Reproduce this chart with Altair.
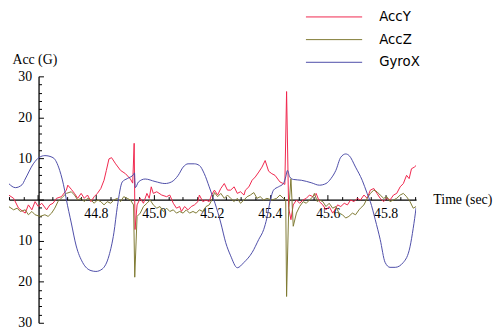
import altair as alt
import pandas as pd

series_names = ["AccY", "AccZ", "GyroX"]
series_colors = ["#f0264c", "#7f7a33", "#4c4ca8"]

accy_time = [44.499, 44.516, 44.533, 44.556, 44.567, 44.579, 44.590, 44.601, 44.613, 44.630,
             44.641, 44.652, 44.664, 44.681, 44.698, 44.703, 44.715, 44.726, 44.737, 44.749,
             44.760, 44.771, 44.783, 44.794, 44.805, 44.817, 44.828, 44.836, 44.845, 44.854,
             44.868, 44.885, 44.902, 44.919, 44.927, 44.932, 44.935, 44.942, 44.953, 44.964,
             44.976, 44.984, 44.991, 44.998, 45.010, 45.027, 45.044, 45.055, 45.067, 45.078,
             45.089, 45.095, 45.106, 45.118, 45.129, 45.140, 45.152, 45.157, 45.169, 45.180,
             45.191, 45.199, 45.209, 45.220, 45.231, 45.243, 45.254, 45.265, 45.277, 45.288,
             45.299, 45.311, 45.316, 45.328, 45.339, 45.350, 45.362, 45.373, 45.384, 45.396,
             45.407, 45.418, 45.435, 45.452, 45.458, 45.465, 45.473, 45.481, 45.492, 45.503,
             45.515, 45.526, 45.537, 45.549, 45.560, 45.571, 45.583, 45.594, 45.605, 45.617,
             45.625, 45.634, 45.645, 45.657, 45.668, 45.679, 45.691, 45.702, 45.713, 45.725,
             45.736, 45.747, 45.759, 45.770, 45.781, 45.793, 45.804, 45.815, 45.827, 45.838,
             45.850, 45.861, 45.872, 45.881, 45.889, 45.899, 45.905]
accy_value = [1.1, 0.3, -2.1, -3.3, -1.3, -2.5, -0.5, -1.7, -0.9, -2.5,
              -1.3, -0.9, 0.3, 0.7, 2.3, 3.5, 2.5, 1.5, 0.3, 1.5,
              0.3, 1.1, -0.5, 0.7, 1.5, 2.7, 4.7, 7.1, 9.9, 10.2,
              8.7, 7.1, 6.3, 5.0, 4.0, 13.7, -7.3, -1.3, 0.3, -0.9,
              1.5, 0.3, 3.1, 1.5, 1.9, 1.1, 0.7, 1.1, -0.9, -2.1,
              -1.7, -2.9, -1.7, -2.5, -1.7, -1.3, -0.5, 1.1, -0.5, -0.1,
              -0.5, 1.1, 2.3, 1.1, 2.7, 3.9, 2.3, 2.3, 3.1, 1.5,
              1.9, 1.1, 2.3, 3.1, 4.7, 5.5, 6.7, 7.9, 9.5, 6.9,
              6.3, 5.9, 4.3, 3.7, 26.3, -2.0, -4.9, -1.3, -0.1, -0.9,
              -0.1, 0.3, 1.1, 0.7, 1.5, -0.5, -1.3, -2.5, -1.7, -3.3,
              -2.5, -1.3, -1.7, -0.9, -1.3, -0.1, -0.5, 0.3, -0.1, 1.1,
              0.3, 2.3, 2.7, 1.5, 0.3, -0.5, 0.3, -0.1, 1.1, 1.5,
              3.1, 3.9, 5.9, 5.1, 7.5, 7.9, 8.3]

accz_time = [44.499, 44.516, 44.528, 44.539, 44.556, 44.567, 44.579, 44.590, 44.607, 44.624,
             44.635, 44.647, 44.658, 44.669, 44.686, 44.698, 44.715, 44.726, 44.737, 44.749,
             44.760, 44.771, 44.783, 44.794, 44.805, 44.817, 44.828, 44.839, 44.851, 44.862,
             44.874, 44.885, 44.896, 44.908, 44.919, 44.930, 44.934, 44.942, 44.953, 44.964,
             44.976, 44.987, 44.998, 45.010, 45.021, 45.033, 45.044, 45.055, 45.067, 45.078,
             45.089, 45.101, 45.112, 45.123, 45.135, 45.146, 45.157, 45.169, 45.180, 45.191,
             45.203, 45.209, 45.220, 45.231, 45.243, 45.254, 45.265, 45.277, 45.288, 45.299,
             45.311, 45.322, 45.333, 45.345, 45.356, 45.367, 45.379, 45.390, 45.407, 45.424,
             45.435, 45.447, 45.455, 45.458, 45.465, 45.473, 45.481, 45.492, 45.503, 45.515,
             45.526, 45.537, 45.549, 45.554, 45.564, 45.571, 45.583, 45.594, 45.605, 45.617,
             45.628, 45.639, 45.651, 45.662, 45.673, 45.685, 45.696, 45.708, 45.713, 45.725,
             45.736, 45.747, 45.759, 45.770, 45.781, 45.793, 45.804, 45.815, 45.827, 45.838,
             45.850, 45.861, 45.872, 45.884, 45.895, 45.905]
accz_value = [-1.7, -2.5, -2.1, -2.9, -2.5, -3.7, -2.9, -3.7, -4.1, -3.7,
              -4.1, -3.3, -2.1, -0.5, 0.7, 1.5, 1.9, 1.1, -0.1, 0.3,
              -0.5, 0.3, -0.1, -0.9, -0.1, -0.5, -1.3, -0.5, -0.9, -0.1,
              0.3, -0.5, 0.7, 0.3, -0.1, -1.3, -18.9, -4.1, -3.3, -1.7,
              -0.9, -0.1, -1.3, -2.1, -1.7, -2.9, -2.1, -2.9, -2.5, -3.3,
              -2.9, -3.3, -2.5, -3.3, -2.9, -3.3, -2.5, -2.9, -1.7, -1.3,
              0.3, 1.7, 0.7, 1.5, 0.3, 1.1, 0.3, -0.5, 0.3, -0.9,
              -0.1, 0.7, 1.1, 1.7, 0.3, 0.7, -0.1, 0.3, -0.1, 0.3,
              1.1, 0.3, -0.1, -23.6, -3.0, 5.1, -6.5, -3.3, -1.7, -0.5,
              -0.9, -0.1, 0.7, 1.5, -0.5, -0.1, -0.5, -1.7, -0.9, -2.1,
              -1.7, -3.3, -3.7, -4.5, -4.1, -3.3, -3.7, -2.5, -2.1, -1.3,
              0.3, 1.5, 2.3, 1.9, 1.1, 0.3, 0.7, -0.5, -0.1, 0.3,
              1.1, 1.5, 0.7, -0.5, -2.1, -1.7]

gyro_time = [44.499, 44.522, 44.545, 44.556, 44.584, 44.605, 44.624, 44.652, 44.675, 44.692,
             44.698, 44.715, 44.732, 44.754, 44.783, 44.800, 44.822, 44.845, 44.862, 44.874,
             44.891, 44.908, 44.930, 44.933, 44.936, 44.947, 44.970, 45.004, 45.038, 45.061,
             45.084, 45.101, 45.118, 45.140, 45.157, 45.174, 45.191, 45.203, 45.211, 45.231,
             45.248, 45.265, 45.288, 45.311, 45.339, 45.362, 45.379, 45.390, 45.401, 45.413,
             45.430, 45.447, 45.455, 45.461, 45.469, 45.481, 45.509, 45.543, 45.571, 45.594,
             45.611, 45.628, 45.645, 45.662, 45.674, 45.696, 45.719, 45.736, 45.747, 45.764,
             45.781, 45.798, 45.815, 45.833, 45.861, 45.884, 45.895, 45.905]
gyro_value = [3.9, 2.9, 3.6, 5.0, 8.7, 10.3, 10.7, 10.2, 7.1, 2.3,
              0.0, -5.7, -11.3, -15.3, -17.3, -17.5, -16.9, -13.7, -8.1, -1.7,
              4.3, 5.1, 6.1, 6.5, 2.9, 4.3, 5.0, 4.4, 3.9, 4.3,
              5.9, 7.9, 8.7, 8.7, 8.3, 6.3, 3.1, 0.7, -0.9, -5.7,
              -10.5, -13.7, -16.6, -15.3, -12.9, -9.7, -7.3, -4.5, -0.5, 2.3,
              3.1, 3.9, 5.5, 7.1, 5.5, 4.9, 4.7, 4.1, 3.5, 3.9,
              5.1, 7.1, 10.3, 11.1, 10.7, 7.9, 4.7, 1.5, -0.5, -4.9,
              -9.7, -15.3, -16.5, -16.5, -15.3, -11.5, -7.0, -2.0]

x_label_values = [44.8, 45.0, 45.2, 45.4, 45.6, 45.8]
x_tick_values = [44.5, 44.55, 44.6, 44.65, 44.7, 44.75, 44.8, 44.85, 44.9, 44.95,
                 45.0, 45.05, 45.1, 45.15, 45.2, 45.25, 45.3, 45.35, 45.4, 45.45,
                 45.5, 45.55, 45.6, 45.65, 45.7, 45.75, 45.8, 45.85, 45.9]
y_label_values = [-30, -20, -10, 10, 20, 30]
y_tick_values = [-30, -28, -26, -24, -22, -20, -18, -16, -14, -12, -10, -8, -6, -4, -2,
                 0, 2, 4, 6, 8, 10, 12, 14, 16, 18, 20, 22, 24, 26, 28, 30]

acc_df = pd.DataFrame({
    "series": ["AccY"] * len(accy_time) + ["AccZ"] * len(accz_time),
    "time": accy_time + accz_time,
    "value": accy_value + accz_value,
})
gyro_df = pd.DataFrame({"series": ["GyroX"] * len(gyro_time), "time": gyro_time, "value": gyro_value})

SERIF = "Liberation Serif"
x_scale = alt.Scale(domain=[44.5, 45.905], nice=False, zero=False)
y_scale = alt.Scale(domain=[-30, 30], nice=False)

legend = alt.Legend(
    title=None, orient="none", legendX=323, legendY=-67, padding=0,
    symbolType="M-5,0H5", symbolSize=130, symbolStrokeWidth=1,
    labelFont="DejaVu Sans", labelFontSize=13.5, labelColor="black",
    labelOffset=39, rowPadding=8,
)
color = alt.Color("series:N", scale=alt.Scale(domain=series_names, range=series_colors), legend=legend)

acc = alt.Chart(acc_df).mark_line(strokeWidth=1, clip=True).encode(
    x=alt.X("time:Q", scale=x_scale, axis=alt.Axis(
        orient="bottom", offset=-125, values=x_label_values, format=".1f",
        ticks=False, grid=False, domainColor="black", domainWidth=1.3,
        labelFont=SERIF, labelFontSize=14, labelColor="black", labelPadding=7,
        labelFlush=False, labelOverlap=False,
        title="Time (sec)", titleFont=SERIF, titleFontSize=14, titleFontWeight="normal",
        titleColor="black", titleX=430, titleY=0, titleAlign="left", titleBaseline="middle", titleAngle=0)),
    y=alt.Y("value:Q", scale=y_scale, axis=alt.Axis(
        orient="left", offset=-30, values=y_label_values,
        labelExpr="format(abs(datum.value), 'd')",
        ticks=False, grid=False, domainColor="black", domainWidth=1.3,
        labelFont=SERIF, labelFontSize=14, labelColor="black", labelPadding=7,
        labelOverlap=False,
        title="Acc (G)", titleFont=SERIF, titleFontSize=14, titleFontWeight="normal",
        titleColor="black", titleX=-27, titleY=-13, titleAlign="left",
        titleBaseline="alphabetic", titleAngle=0)),
    color=color,
)

gyro = alt.Chart(gyro_df).mark_line(strokeWidth=1, clip=True, interpolate="monotone").encode(
    x=alt.X("time:Q", scale=x_scale, axis=None),
    y=alt.Y("value:Q", scale=y_scale, axis=None),
    color=color,
)

ticks = alt.Chart(gyro_df).mark_point(opacity=0).encode(
    x=alt.X("time:Q", scale=x_scale, axis=alt.Axis(
        orient="top", offset=-125, values=x_tick_values, labels=False, domain=False,
        grid=False, title=None, tickColor="black", tickWidth=1,
        tickSize={"condition": {"test": "abs(datum.value * 5 - round(datum.value * 5)) < 0.01", "value": 5}, "value": 3})),
    y=alt.Y("value:Q", scale=y_scale, axis=alt.Axis(
        orient="right", offset=-383, values=y_tick_values, labels=False, domain=False,
        grid=False, title=None, tickColor="black", tickWidth=1,
        tickSize={"condition": {"test": "datum.value % 10 == 0", "value": 5}, "value": 3})),
)

chart = alt.layer(acc, gyro, ticks).resolve_axis(x="independent", y="independent").properties(
    width=413, height=250,
    padding={"left": 1, "top": 67, "right": 78, "bottom": 5},
    autosize=alt.AutoSizeParams(type="none"),
).configure_view(stroke=None)

chart.save("out.html", embed_options={"renderer": "svg", "actions": False})
